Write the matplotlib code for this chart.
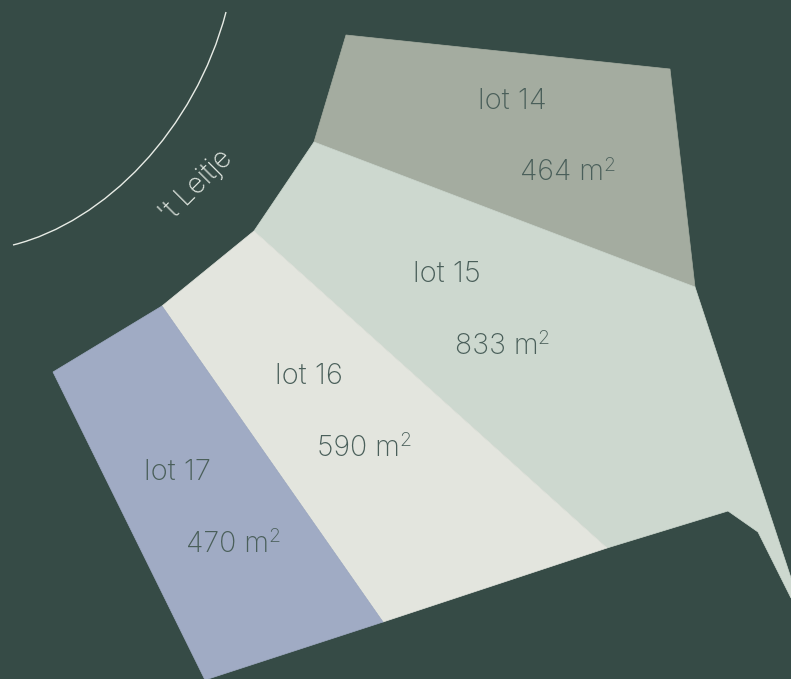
import matplotlib
matplotlib.use("Agg")
import matplotlib.pyplot as plt
from matplotlib.patches import Polygon, PathPatch
from matplotlib.path import Path
from matplotlib.transforms import IdentityTransform, blended_transform_factory

#lot outlines, picture pixels
lot14_x = [346, 670, 695, 314]
lot14_y = [35, 69, 287, 142]
lot15_x = [314, 695, 791, 791, 758, 728, 607, 254]
lot15_y = [142, 287, 578, 598, 532, 511, 548, 231]
lot16_x = [254, 607, 383, 162]
lot16_y = [231, 548, 622, 306]
lot17_x = [162, 383, 205, 53]
lot17_y = [306, 622, 680, 372]

lot_names = ["lot 14", "lot 15", "lot 16", "lot 17"]
lot_areas = ["464 m", "833 m", "590 m", "470 m"]
name_x = [478, 413, 275, 144]
name_y = [101, 274, 376, 472]
area_x = [520, 455, 317, 186]
area_y = [173, 346, 448, 544]
colors = ["#a4aca0", "#cdd8cf", "#e3e5de", "#a0abc4"]

#the ditch, 't Leitje
ditch_x = [13, 105, 195, 226]
ditch_y = [245, 222, 130, 12]

bg = "#364b46"
ink = "#4a5f5a"
font = "Inter"

fig = plt.figure(figsize=(7.91, 6.79), dpi=100, facecolor=bg)
ax = fig.add_axes([0, 0, 1, 1])
ax.set_xlim(0, 791)
ax.set_ylim(679, 0)
ax.axis("off")

xs = [lot14_x, lot15_x, lot16_x, lot17_x]
ys = [lot14_y, lot15_y, lot16_y, lot17_y]
for i in range(4):
    ax.add_patch(Polygon(list(zip(xs[i], ys[i])), closed=True, fc=colors[i], ec=colors[i], lw=0.5))
    ax.text(name_x[i], name_y[i], lot_names[i], color=ink, fontsize=21, family=font,
            weight="light", va="center", ha="left")
    t = ax.text(area_x[i], area_y[i], lot_areas[i], color=ink, fontsize=20.5, family=font,
                weight="light", va="center", ha="left")
    #the squared sign goes right after the unit
    box = t.get_window_extent(fig.canvas.get_renderer())
    ax.text(box.x1 - 1, area_y[i] - 7, "2", color=ink, fontsize=14, family=font,
            weight="light", va="center", ha="left",
            transform=blended_transform_factory(IdentityTransform(), ax.transData))

codes = [Path.MOVETO, Path.CURVE4, Path.CURVE4, Path.CURVE4]
ax.add_patch(PathPatch(Path(list(zip(ditch_x, ditch_y)), codes), fc="none", ec="#e8ece6", lw=1))
ax.text(196, 186, "'t Leitje", color="#dfe5df", fontsize=20, family=font, weight="light",
        rotation=45, rotation_mode="anchor", ha="center", va="center")

fig.savefig("out.png", dpi=100, facecolor=bg)
